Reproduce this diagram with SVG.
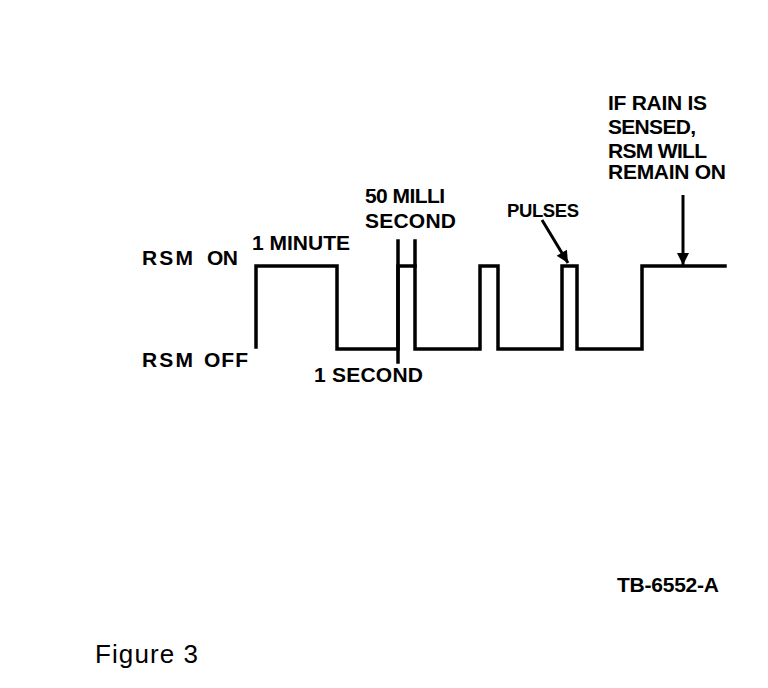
<svg xmlns="http://www.w3.org/2000/svg" width="768" height="688" viewBox="0 0 768 688">
<style>
.t{font-family:"Liberation Sans",Arial,sans-serif;font-weight:bold;font-size:21px;fill:#000}
.s{font-size:18.5px}
.f{font-family:"Liberation Sans",Arial,sans-serif;font-size:26px;fill:#000}
.w{fill:none;stroke:#000;stroke-width:3.5;stroke-linejoin:miter;stroke-linecap:square}
.a{fill:none;stroke:#000;stroke-width:3}
</style>
<defs>
<marker id="ah" viewBox="0 0 10 10" refX="10" refY="5" markerWidth="4.5" markerHeight="4" orient="auto" markerUnits="strokeWidth">
<path d="M0,0 L10,5 L0,10 z" fill="#000"/>
</marker>
</defs>
<rect width="768" height="688" fill="#fff"/>
<g id="waveform">
<path class="w" d="M256,347 V266 H337 V349 H398 V266 H415 V349 H480 V266 H498 V349 H562 V266 H577 V349 H642 V266 H725"/>
<path class="w" d="M398,241 V362 M415,241 V266"/>
</g>
<g id="label-rsm-on"><text class="t" x="142" y="265" textLength="51">RSM</text><text class="t" x="207" y="265" textLength="31">ON</text></g>
<g id="label-rsm-off"><text class="t" x="142" y="367" textLength="51">RSM</text><text class="t" x="204" y="367" textLength="44">OFF</text></g>
<g id="label-1-minute"><text class="t" x="252" y="250" textLength="98">1 MINUTE</text></g>
<g id="label-1-second"><text class="t" x="314" y="382" textLength="109">1 SECOND</text></g>
<g id="label-50-milli"><text class="t" x="365" y="203" textLength="80">50 MILLI</text><text class="t" x="365" y="228" textLength="91">SECOND</text></g>
<g id="label-pulses"><text class="t s" x="507" y="217" textLength="72">PULSES</text></g>
<g id="label-rain">
<text class="t" x="608" y="110" textLength="99">IF RAIN IS</text>
<text class="t" x="608" y="134" textLength="88">SENSED,</text>
<text class="t" x="608" y="158" textLength="99">RSM WILL</text>
<text class="t" x="608" y="179" textLength="118">REMAIN ON</text>
</g>
<g id="label-tb"><text class="t" x="617" y="592" textLength="102">TB-6552-A</text></g>
<g id="label-figure"><text class="f" x="95" y="663" textLength="103">Figure 3</text></g>
<g id="connectors">
<line class="a" x1="542" y1="220" x2="568" y2="263" marker-end="url(#ah)"/>
<line class="a" x1="683" y1="195" x2="683" y2="265" marker-end="url(#ah)"/>
</g>
</svg>
